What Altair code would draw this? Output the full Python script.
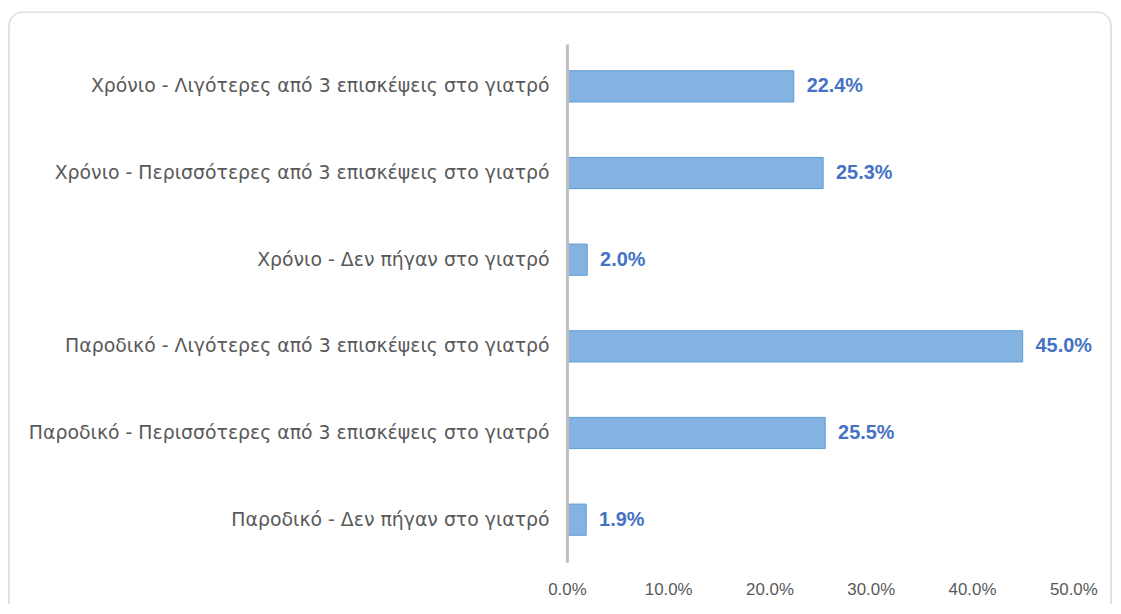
import altair as alt
import pandas as pd

categories = [
    "Χρόνιο  - Λιγότερες από 3 επισκέψεις στο γιατρό",
    "Χρόνιο  - Περισσότερες από 3 επισκέψεις στο γιατρό",
    "Χρόνιο - Δεν πήγαν στο γιατρό",
    "Παροδικό  - Λιγότερες από 3 επισκέψεις στο γιατρό",
    "Παροδικό  - Περισσότερες από 3 επισκέψεις στο γιατρό",
    "Παροδικό - Δεν πήγαν στο γιατρό",
]
values = [0.224, 0.253, 0.020, 0.450, 0.255, 0.019]
labels = ["22.4%", "25.3%", "2.0%", "45.0%", "25.5%", "1.9%"]
x_ticks = [0.0, 0.1, 0.2, 0.3, 0.4, 0.5]

df = pd.DataFrame({"cat": categories, "val": values, "lab": labels})

y_enc = alt.Y("cat:N", sort=categories, title=None,
              scale=alt.Scale(paddingInner=0.64, paddingOuter=0.31),
              axis=alt.Axis(labelFont="DejaVu Sans", labelFontSize=19,
                            labelColor="#595959", labelLimit=600, labelPadding=18,
                            ticks=False, domainColor="#bfbfbf", domainWidth=3,
                            zindex=1))
x_enc = alt.X("val:Q", title=None,
              scale=alt.Scale(domain=[0, 0.5], nice=False),
              axis=alt.Axis(values=x_ticks, format=".1%", grid=False, domain=False,
                            ticks=False, labelFont="Liberation Sans", labelFontSize=17,
                            labelColor="#595959", labelPadding=20,
                            labelFlush=False, zindex=1))

card = alt.Chart(pd.DataFrame({"a": [0]})).mark_rect(
    fill="white", stroke="#d9d9d9", strokeWidth=1.5, cornerRadius=14
).encode(x=alt.value(-562), x2=alt.value(548), y=alt.value(-32), y2=alt.value(620))

bars = alt.Chart(df).mark_bar(
    color="#84b3e1", stroke="#5b9bd5", strokeWidth=1
).encode(y=y_enc, x=x_enc)

text = alt.Chart(df).mark_text(
    align="left", baseline="middle", dx=13, font="Liberation Sans",
    fontSize=20, fontWeight="bold", color="#4472c4"
).encode(y=alt.Y("cat:N", sort=categories), x=alt.X("val:Q"), text="lab:N")

chart = alt.layer(card, bars, text).properties(
    width=510, height=522,
    autosize=alt.AutoSizeParams(type="none"),
    padding={"left": 563, "top": 34, "right": 40, "bottom": 40},
    background="white",
).configure_view(stroke=None)

chart.save("out.html", embed_options={"renderer": "svg", "actions": False})
